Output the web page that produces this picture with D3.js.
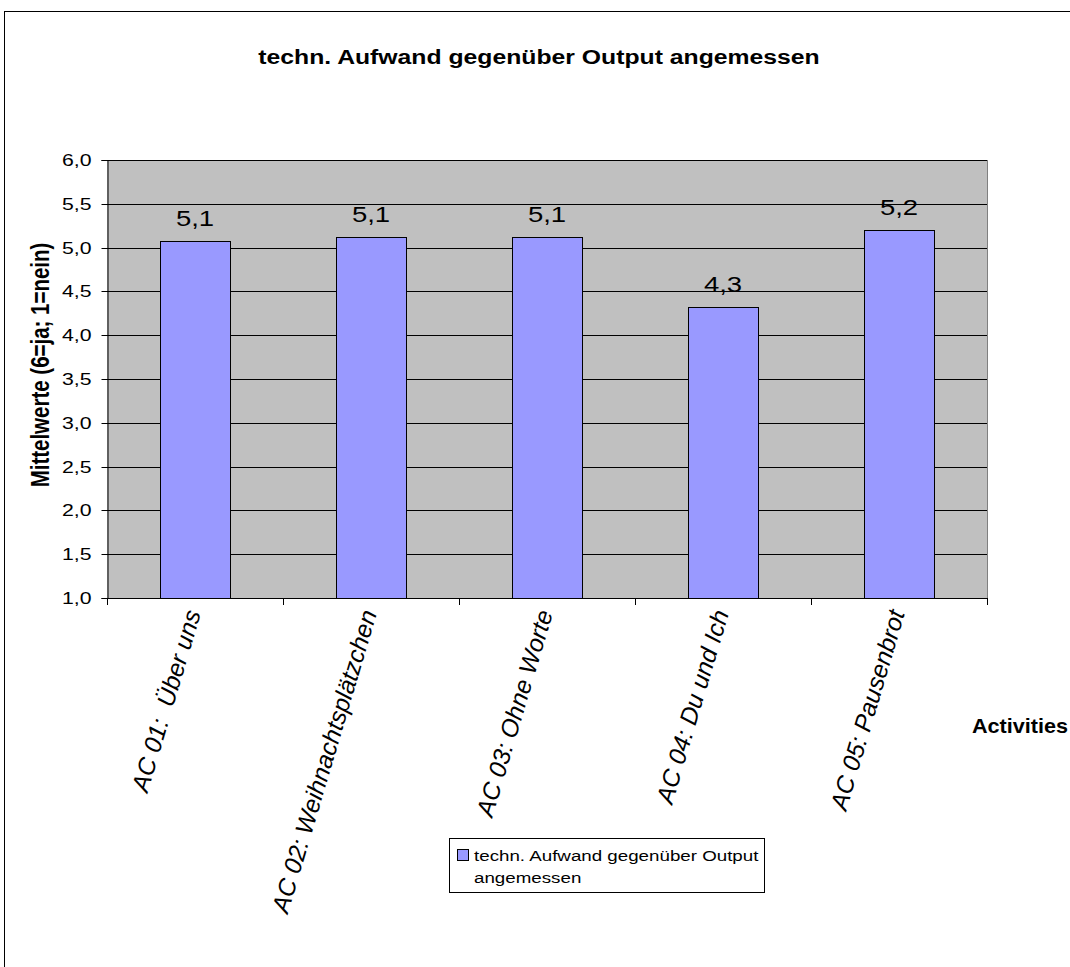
<!DOCTYPE html>
<html>
<head>
<meta charset="utf-8">
<script src="https://cdn.jsdelivr.net/npm/d3@7"></script>
<style>
  html, body { margin: 0; padding: 0; background: #fff; }
  svg { display: block; font-family: Arial, "Liberation Sans", sans-serif; }
  text { white-space: pre; }
</style>
</head>
<body>
<svg id="chart" width="1070" height="967"></svg>
<script>
// ---- data ----
const title = "techn. Aufwand gegenüber Output angemessen";
const categories = ["AC 01:  Über uns", "AC 02: Weihnachtsplätzchen", "AC 03: Ohne Worte", "AC 04: Du und Ich", "AC 05: Pausenbrot"];
const values = [5.08, 5.12, 5.12, 4.32, 5.2];
const yTicks = [1.0, 1.5, 2.0, 2.5, 3.0, 3.5, 4.0, 4.5, 5.0, 5.5, 6.0];
const yTitle = "Mittelwerte (6=ja; 1=nein)";
const xTitle = "Activities";
const legendLines = ["techn. Aufwand gegenüber Output", "angemessen"];

// ---- setup ----
const SX = 1.25; // horizontal stretch of the reference's text
const svg = d3.select("#chart");
const de = d3.formatLocale({decimal: ",", thousands: ".", grouping: [3], currency: ["", "€"]});
const fmt1 = de.format(".1f");

const plot = {left: 107, right: 987, top: 160, bottom: 598};
const x = d3.scaleBand().domain(categories).range([plot.left, plot.right]).paddingInner(0.6).paddingOuter(0.3);
const y = d3.scaleLinear().domain([1, 6]).range([plot.bottom, plot.top]);
const step = x.step();

// outer frame
svg.append("rect").attr("x", 4.5).attr("y", 11.5).attr("width", 1200).attr("height", 1200)
  .attr("fill", "#fff").attr("stroke", "#000").attr("stroke-width", 1);

// title
svg.append("text")
  .attr("transform", `translate(539,64) scale(${SX},1)`)
  .attr("text-anchor", "middle").attr("font-weight", "bold").attr("font-size", 19.8)
  .text(title);

// plot background
svg.append("rect").attr("x", plot.left).attr("y", plot.top)
  .attr("width", plot.right - plot.left).attr("height", plot.bottom - plot.top)
  .attr("fill", "#C0C0C0");
// right edge
svg.append("line").attr("x1", plot.right + 0.5).attr("x2", plot.right + 0.5)
  .attr("y1", plot.top).attr("y2", plot.bottom).attr("stroke", "#808080");

// gridlines
svg.append("g").selectAll("line").data(yTicks.slice(1)).join("line")
  .attr("x1", plot.left).attr("x2", plot.right)
  .attr("y1", d => Math.round(y(d)) + 0.5).attr("y2", d => Math.round(y(d)) + 0.5)
  .attr("stroke", "#000").attr("stroke-width", 1);

// bars
svg.append("g").selectAll("rect").data(values).join("rect")
  .attr("x", (d, i) => Math.round(x(categories[i])) + 0.5)
  .attr("y", d => Math.round(y(d)) + 0.5)
  .attr("width", Math.round(x.bandwidth()))
  .attr("height", d => Math.round(y(1)) - Math.round(y(d)))
  .attr("fill", "#9999FF").attr("stroke", "#000").attr("stroke-width", 1);

// value labels
svg.append("g").selectAll("text").data(values).join("text")
  .attr("transform", (d, i) => `translate(${x(categories[i]) + x.bandwidth() / 2},${y(d) - 15}) scale(${SX},1)`)
  .attr("text-anchor", "middle").attr("font-size", 22)
  .text(d => fmt1(d));

// y axis
const yAxis = svg.append("g").attr("transform", `translate(${plot.left + 0.5},0)`)
  .call(d3.axisLeft(y).tickValues(yTicks).tickSize(6).tickPadding(0).tickFormat(fmt1));
yAxis.select(".domain").attr("stroke", "#000");
yAxis.selectAll(".tick line").attr("stroke", "#000");
yAxis.selectAll(".tick").attr("transform", d => `translate(0,${Math.round(y(d)) + 0.5})`);
yAxis.selectAll(".tick text")
  .attr("x", null).attr("dy", "0.35em")
  .attr("transform", `translate(-16,0) scale(${SX},1)`)
  .attr("font-size", 17).attr("fill", "#000")
  .attr("font-family", "Arial, 'Liberation Sans', sans-serif");

// x axis line and boundary ticks
svg.append("line").attr("x1", plot.left).attr("x2", plot.right + 1)
  .attr("y1", plot.bottom + 0.5).attr("y2", plot.bottom + 0.5).attr("stroke", "#000");
const bounds = categories.map(c => x(c) + x.bandwidth() / 2 - step / 2).concat([x(categories[categories.length - 1]) + x.bandwidth() / 2 + step / 2]);
svg.append("g").selectAll("line").data(bounds).join("line")
  .attr("x1", d => Math.round(d) + 0.5).attr("x2", d => Math.round(d) + 0.5)
  .attr("y1", plot.bottom).attr("y2", plot.bottom + 7).attr("stroke", "#000");

// x labels (rotated)
svg.append("g").selectAll("text").data(categories).join("text")
  .attr("transform", d => `translate(${x(d) + x.bandwidth() / 2 + 6},613) rotate(-73.5)`)
  .attr("text-anchor", "end").attr("font-size", 24.5).attr("font-style", "italic")
  .attr("xml:space", "preserve")
  .text(d => d);

// y title
svg.append("text")
  .attr("transform", `translate(49,365) scale(${SX},1) rotate(-90)`)
  .attr("text-anchor", "middle").attr("font-weight", "bold").attr("font-size", 20.5)
  .text(yTitle);

// x title
svg.append("text")
  .attr("transform", `translate(972,733) scale(1.08,1)`)
  .attr("font-weight", "bold").attr("font-size", 20)
  .text(xTitle);

// legend
const lg = svg.append("g");
lg.append("rect").attr("x", 449.5).attr("y", 838.5).attr("width", 315).attr("height", 54)
  .attr("fill", "#fff").attr("stroke", "#000");
lg.append("rect").attr("x", 457.5).attr("y", 849.5).attr("width", 11).attr("height", 11)
  .attr("fill", "#9999FF").attr("stroke", "#000");
lg.selectAll("text.l").data(legendLines).join("text").attr("class", "l")
  .attr("transform", (d, i) => `translate(474,${861 + i * 22}) scale(${SX},1)`)
  .attr("font-size", 15)
  .text(d => d);
</script>
</body>
</html>
